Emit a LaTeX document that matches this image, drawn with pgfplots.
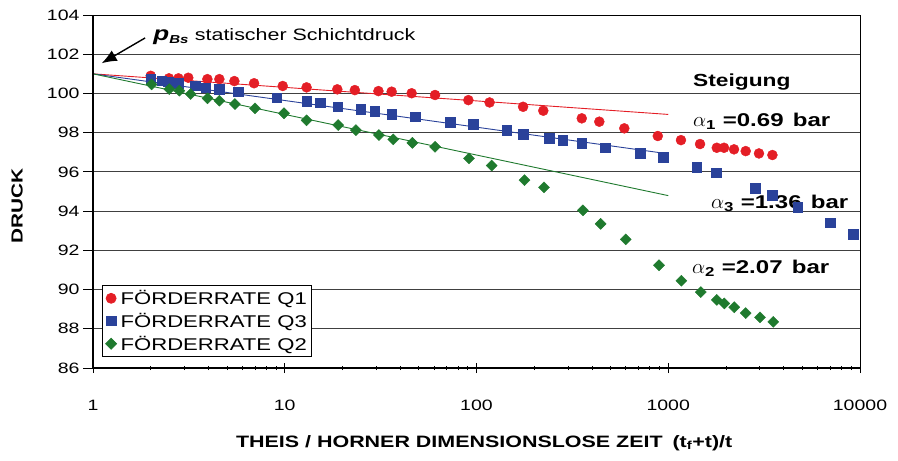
\documentclass[border=0pt]{standalone}
\usepackage{pgfplots}
\pgfplotsset{compat=1.18}
\usepackage{fontspec}
\setmainfont{Liberation Sans}[FakeStretch=1.3]
\newfontfamily\plainsans{Liberation Sans}
\usetikzlibrary{arrows.meta}

\definecolor{qred}{HTML}{E41E26}
\definecolor{qblue}{HTML}{2A429A}
\definecolor{qgreen}{HTML}{1F7A2E}

\begin{document}
\begin{tikzpicture}
\useasboundingbox (-93pt,-93pt) rectangle (805pt,368pt);
\begin{axis}[
  scale only axis, width=767pt, height=353pt,
  xmode=log, xmin=1, xmax=10000, ymin=86, ymax=104,
  xtick={1,10,100,1000,10000},
  xticklabels={1,10,100,1000,10000},
  minor xtick={2,3,4,5,6,7,8,9,20,30,40,50,60,70,80,90,200,300,400,500,600,700,800,900,2000,3000,4000,5000,6000,7000,8000,9000},
  ytick={86,88,90,92,94,96,98,100,102,104},
  xtick pos=bottom, ytick pos=left,
  xtick align=center, ytick align=outside,
  major tick length=10pt, minor tick length=4pt,
  tick style={black, line width=0.8pt},
  ymajorgrids, grid style={black!75, line width=0.8pt},
  axis line style={line width=0.9pt},
  /pgf/number format/assume math mode=true,
  /pgf/number format/fixed,
  tick label style={font=\fontsize{15}{15}\selectfont},
  xticklabel style={anchor=center, yshift=-32pt},
  xlabel={\fontsize{16.5}{17}\selectfont\bfseries THEIS / HORNER DIMENSIONSLOSE ZEIT\hspace{0.6em}(t\textsubscript{f}+t)/t},
  xlabel style={at={(rel axis cs:0.51,-0.2125)}, anchor=center},
  clip=false,
  legend style={at={(rel axis cs:0.012,0.235)}, anchor=north west, draw=black, line width=0.8pt,
    font=\fontsize{17}{18}\selectfont, inner sep=3pt, row sep=3pt},
  legend cell align=left,
]
% fitted semilog lines through the static pressure
\addplot[qred, line width=0.9pt, forget plot] coordinates {(1,101.0) (1000,98.93)};
\addplot[qblue, line width=0.9pt, forget plot] coordinates {(1,101.0) (1000,96.92)};
\addplot[qgreen, line width=0.9pt, forget plot] coordinates {(1,101.0) (1000,94.79)};

% Q1
\addplot[only marks, mark=*, mark size=5pt, mark options={draw=qred, fill=qred}] coordinates {
(2.00,100.90) (2.49,100.77) (2.79,100.77) (3.14,100.80) (3.95,100.73) (4.56,100.73)
(5.46,100.63) (6.92,100.52) (9.76,100.38) (13.0,100.31) (18.8,100.21) (23.2,100.17)
(30.8,100.12) (36.1,100.09) (45.9,100.01) (60.8,99.92) (90.7,99.66) (117,99.54)
(175,99.32) (223,99.12) (354,98.73) (437,98.56) (590,98.22) (882,97.83)
(1165,97.62) (1465,97.42) (1791,97.23) (1954,97.23) (2203,97.15) (2535,97.06)
(2973,96.94) (3493,96.86)};
\addlegendentry{\hspace{2pt}FÖRDERRATE Q1}

% Q3
\addplot[only marks, mark=square*, mark size=4.8pt, mark options={draw=qblue, fill=qblue}] coordinates {
(2.00,100.72) (2.28,100.65) (2.47,100.60) (2.79,100.52) (3.40,100.39) (3.88,100.29)
(4.56,100.21) (5.73,100.09) (9.08,99.78) (13.0,99.61) (15.3,99.53) (18.9,99.32)
(24.9,99.20) (29.5,99.10) (36.1,98.93) (47.8,98.81) (72.7,98.53) (96.2,98.44)
(144,98.13) (175,97.93) (239,97.71) (282,97.62) (354,97.45) (469,97.23)
(713,96.94) (942,96.74) (1407,96.23) (1775,95.95) (2833,95.16) (3490,94.82)
(4730,94.19) (6980,93.40) (9230,92.81)};
\addlegendentry{\hspace{2pt}FÖRDERRATE Q3}

% Q2
\addplot[only marks, mark=square*, mark size=3.9pt, mark options={draw=qgreen, fill=qgreen, rotate=45}] coordinates {
(2.02,100.46) (2.50,100.22) (2.82,100.14) (3.23,99.97) (3.96,99.75) (4.56,99.63)
(5.50,99.46) (7.00,99.24) (9.91,98.99) (13.0,98.63) (19.0,98.39) (23.5,98.13)
(31.0,97.88) (36.8,97.66) (46.3,97.48) (60.8,97.28) (91.4,96.69) (120,96.32)
(178,95.58) (225,95.21) (359,94.04) (444,93.35) (600,92.56) (895,91.24)
(1170,90.45) (1479,89.87) (1791,89.47) (1960,89.29) (2209,89.10) (2534,88.80)
(3010,88.58) (3530,88.35)};
\addlegendentry{\hspace{2pt}FÖRDERRATE Q2}

% heavier left and bottom axis lines
\draw[line width=2.6pt] (rel axis cs:0,1) -- (rel axis cs:0,0) -- (rel axis cs:1,0);

% y axis title
\node[rotate=90, anchor=center, inner sep=0pt, font=\fontsize{16}{16}\selectfont\bfseries]
  at (rel axis cs:-0.099,0.46) {DRUCK};

% annotations
\draw[-{Latex[length=15pt,width=12pt]}, line width=1.4pt] (axis cs:1.87,102.83) -- (axis cs:1.11,101.54);
\node[anchor=west, inner sep=0pt, font=\fontsize{16.5}{17}\selectfont] at (axis cs:2.06,102.88)
  {\textbf{\textit{\fontsize{20}{20}\selectfont p}}\textsubscript{\textbf{\textit{Bs}}} statischer Schichtdruck};
\node[anchor=west, inner sep=0pt, font=\fontsize{17.5}{18}\selectfont\bfseries] at (axis cs:1346,100.60) {Steigung};
\node[anchor=west, inner sep=0pt, font=\fontsize{18.5}{19}\selectfont] at (axis cs:1346,98.56)
  {{\fontsize{21}{21}\selectfont$\alpha$}\textsubscript{\textbf{1}} \textbf{=0.69\hspace{0.5em}bar}};
\node[anchor=west, inner sep=0pt, font=\fontsize{18.5}{19}\selectfont] at (axis cs:1671,94.41)
  {{\fontsize{21}{21}\selectfont$\alpha$}\textsubscript{\textbf{3}} \textbf{=1.36\hspace{0.5em}bar}};
\node[anchor=west, inner sep=0pt, font=\fontsize{18.5}{19}\selectfont] at (axis cs:1330,91.09)
  {{\fontsize{21}{21}\selectfont$\alpha$}\textsubscript{\textbf{2}} \textbf{=2.07\hspace{0.5em}bar}};
\end{axis}
\end{tikzpicture}
\end{document}
